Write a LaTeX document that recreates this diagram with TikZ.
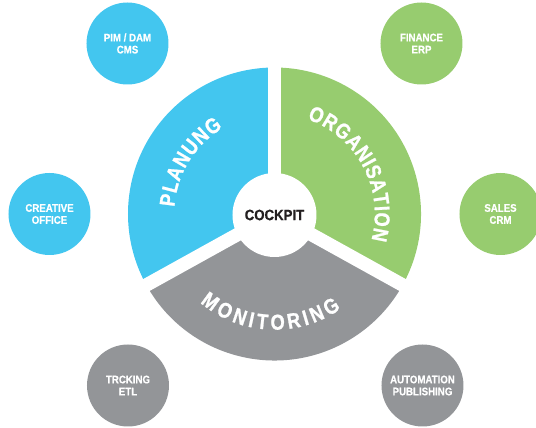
\documentclass[tikz,border=0pt]{standalone}
\usepackage{fontspec}
\setmainfont{Liberation Sans}
\newfontfamily\dgmfont{Liberation Sans}[FakeStretch=0.88,FakeBold=0.6]
\newfontfamily\arcfont{Liberation Sans}[FakeStretch=0.85,FakeBold=1]
\usetikzlibrary{decorations.text}
\definecolor{planblue}{HTML}{43C6EF}
\definecolor{orggreen}{HTML}{97CC6F}
\definecolor{mongray}{HTML}{939598}
\definecolor{hubtext}{HTML}{231F20}
\tikzset{%
  sat/.style={shape=circle,inner sep=0,minimum size=82pt,text=white,align=center,font=\dgmfont\bfseries\fontsize{11}{12}\selectfont},
  hub/.style={shape=circle,fill=white,inner sep=0,minimum size=84pt,text=hubtext,font=\dgmfont\bfseries\fontsize{15}{15}\selectfont},
  gap/.style={draw=white,line width=13.5pt},
  arclabel/.style={decorate,decoration={text along path,text align={fit to path},text={|\arcfont\bfseries\fontsize{21.5}{21.5}\selectfont\color{white}|#1}}}
}

\begin{document}
\begin{tikzpicture}[x=1pt,y=1pt]
  \clip (-274.5,-214) rectangle (261.5,214);
  % donut
  \fill[planblue] (0,0) -- (90:146.5) arc[start angle=90,end angle=209,radius=146.5] -- cycle;
  \fill[mongray] (0,0) -- (209:146.5) arc[start angle=209,end angle=331,radius=146.5] -- cycle;
  \fill[orggreen] (0,0) -- (-29:146.5) arc[start angle=-29,end angle=90,radius=146.5] -- cycle;
  \draw[gap] (0,0) -- (90:150);
  \draw[gap] (0,0) -- (209:150);
  \draw[gap] (0,0) -- (331:150);
  \node[hub] (cockpit) at (0,-1) {COCKPIT};
  \path[arclabel=PLANUNG] (176:100.3) arc[start angle=176,end angle=121,radius=100.3];
  \path[arclabel=ORGANISATION] (71:100.3) arc[start angle=71,end angle=-15,radius=100.3];
  \path[arclabel=MONITORING] (230:115.7) arc[start angle=230,end angle=305,radius=115.7];
  % satellites
  \path
    (-147,170.5) node[sat,fill=planblue] (pim) {PIM / DAM\\CMS}
    (147,170.5) node[sat,fill=orggreen] (finance) {FINANCE\\ERP}
    (-225,0) node[sat,fill=planblue] (creative) {CREATIVE\\OFFICE}
    (226,0) node[sat,fill=orggreen] (sales) {SALES\\CRM}
    (-146.5,-171.5) node[sat,fill=mongray] (tracking) {TRCKING\\ETL}
    (148,-171.5) node[sat,fill=mongray] (automation) {AUTOMATION\\PUBLISHING};
\end{tikzpicture}
\end{document}
